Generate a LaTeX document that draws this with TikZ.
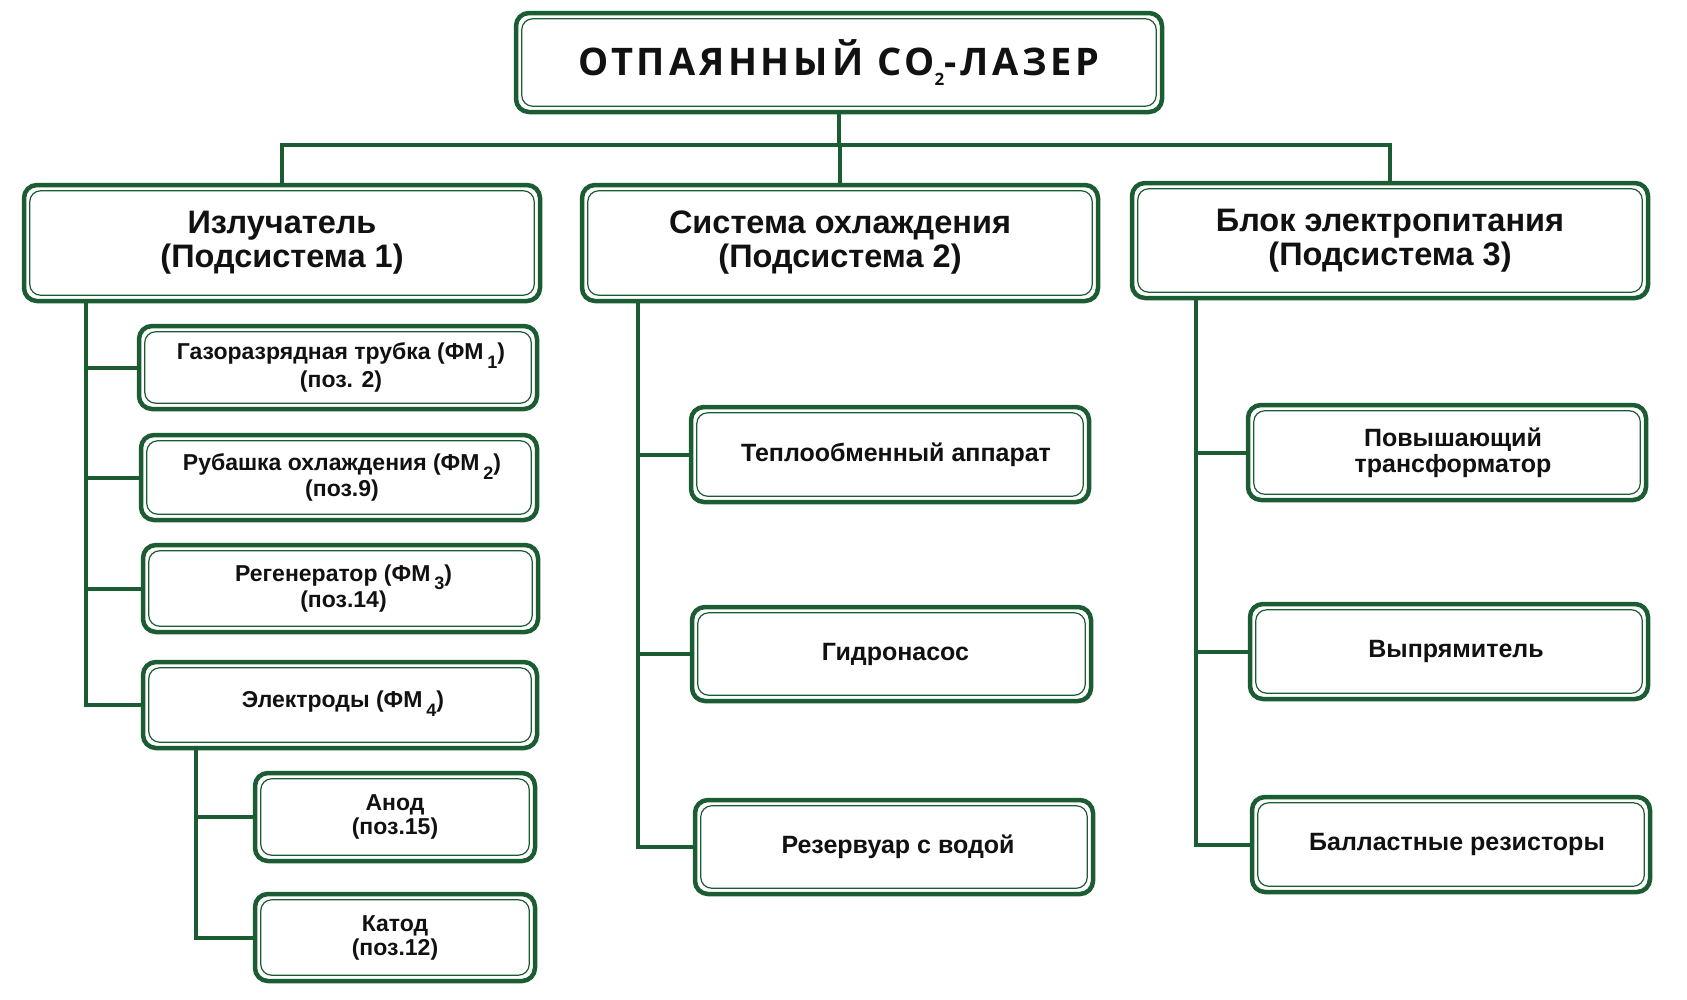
\documentclass[tikz,border=0pt]{standalone}
\usepackage{fontspec}
\setmainfont{Liberation Sans}
\newfontfamily\titlefont[LetterSpace=10]{Open Sans}
\definecolor{dgreen}{RGB}{28,92,50}
\definecolor{txt}{RGB}{17,17,17}
\newcommand{\lowidx}[1]{\,\raisebox{-0.38em}{\fontsize{18}{18}\selectfont #1}}
\tikzset{
  box/.style={draw=dgreen, line width=4.5pt, rounded corners=13pt, fill=white,
    inner sep=0pt, align=center, text=txt, font=\bfseries},
  inbox/.style={draw=dgreen, line width=1.2pt, rounded corners=11pt},
  conn/.style={draw=dgreen, line width=4pt},
  big/.style={font=\fontsize{32.5}{34}\selectfont\bfseries},
  small/.style={font=\fontsize{23}{24}\selectfont\bfseries},
  medium/.style={font=\fontsize{25}{26}\selectfont\bfseries},
}
\begin{document}
\begin{tikzpicture}[x=1pt,y=-1pt]
\useasboundingbox (0,0) rectangle (1687,999);
% nodes
\node[box, minimum width=646pt, minimum height=99pt] (title) at (839,62.5)
  {\titlefont\fontsize{38}{40}\selectfont\bfseries ОТПАЯННЫЙ СО\raisebox{-0.25em}{\fontsize{17}{17}\selectfont 2}-ЛАЗЕР};
\node[box, big, minimum width=516pt, minimum height=116pt] (s1) at (282,243) {Излучатель\\(Подсистема 1)};
\node[box, big, minimum width=516pt, minimum height=116pt] (s2) at (840,243) {Система охлаждения\\(Подсистема 2)};
\node[box, big, minimum width=516pt, minimum height=115pt] (s3) at (1390,240.5) {Блок электропитания\\(Подсистема 3)};

\node[box, small, minimum width=398pt, minimum height=83pt] (c1) at (338,367.5) {\raisebox{0.15em}{\hspace{6pt}Газоразрядная трубка (ФМ\lowidx{1})}\\\hspace{6pt}(поз. 2)};
\node[box, small, minimum width=396pt, minimum height=85pt] (c2) at (339,477.5) {\hspace{6pt}Рубашка охлаждения (ФМ\lowidx{2})\\\hspace{6pt}(поз.9)};
\node[box, small, minimum width=395pt, minimum height=87pt] (c3) at (340.5,588.5) {\hspace{6pt}Регенератор (ФМ\lowidx{3})\\\hspace{6pt}(поз.14)};
\node[box, small, minimum width=394pt, minimum height=86pt] (c4) at (340,705) {\raisebox{0.5em}{\hspace{6pt}Электроды (ФМ\lowidx{4})}};
\node[box, small, minimum width=280pt, minimum height=88pt] (e1) at (395,817) {Анод\\(поз.15)};
\node[box, small, minimum width=280pt, minimum height=87pt] (e2) at (395,937.5) {Катод\\(поз.12)};

\node[box, medium, minimum width=398pt, minimum height=95pt] (m1) at (890,454.5) {\hspace{12pt}Теплообменный аппарат};
\node[box, medium, minimum width=399pt, minimum height=94pt] (m2) at (891.5,654) {\hspace{8pt}Гидронасос};
\node[box, medium, minimum width=398pt, minimum height=94pt] (m3) at (894,847) {\hspace{8pt}Резервуар с водой};

\node[box, medium, minimum width=398pt, minimum height=95pt] (r1) at (1447,452.5) {\hspace{12pt}Повышающий\\\hspace{12pt}трансформатор};
\node[box, medium, minimum width=398pt, minimum height=95pt] (r2) at (1449,651.5) {\hspace{14pt}Выпрямитель};
\node[box, medium, minimum width=398pt, minimum height=95pt] (r3) at (1451,844.5) {\hspace{12pt}Балластные резисторы};

% inner borders
\foreach \n in {title,s1,s2,s3,c1,c2,c3,c4,e1,e2,m1,m2,m3,r1,r2,r3}{
  \draw[inbox] ([shift={(8,-8)}]\n.south west) rectangle ([shift={(-8,8)}]\n.north east);
}

% coordinates
\coordinate (bus) at (0,145);
\coordinate (t1) at (86,0);
\coordinate (t2) at (196,0);
\coordinate (t3) at (638,0);
\coordinate (t4) at (1196,0);

% connectors
\draw[conn] (title.south) -- (title.south |- bus);
\draw[conn] (s2.north) -- (s2.north |- bus);
\draw[conn, line cap=rect] (s1.north) -- (s1.north |- bus) -- (s3.north |- bus) -- (s3.north);

\draw[conn] (t1 |- s1.south) -- (t1 |- c4.west) -- (c4.west);
\foreach \n in {c1,c2,c3}{ \draw[conn] (t1 |- \n.west) -- (\n.west); }

\draw[conn] (t2 |- c4.south) -- (t2 |- e2.west) -- (e2.west);
\draw[conn] (t2 |- e1.west) -- (e1.west);

\draw[conn] (t3 |- s2.south) -- (t3 |- m3.west) -- (m3.west);
\foreach \n in {m1,m2}{ \draw[conn] (t3 |- \n.west) -- (\n.west); }

\draw[conn] (t4 |- s3.south) -- (t4 |- r3.west) -- (r3.west);
\foreach \n in {r1,r2}{ \draw[conn] (t4 |- \n.west) -- (\n.west); }
\end{tikzpicture}
\end{document}
